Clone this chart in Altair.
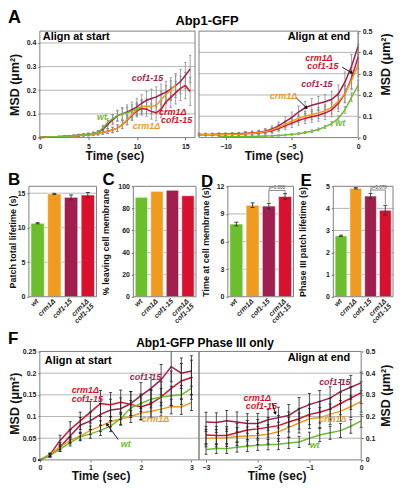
import altair as alt
import pandas as pd

FONT = "Liberation Sans"
SERIES = ["wt", "crm1Δ", "cof1-15", "crm1Δ cof1-15"]
COLOR = {"wt": "#6CBF2C", "crm1Δ": "#EE9B1F", "cof1-15": "#A11F4F", "crm1Δ cof1-15": "#D7112E"}
DRAW_ORDER = ["cof1-15", "crm1Δ cof1-15", "crm1Δ", "wt"]

# ---------------- Panel A: align at start (time, sec) ----------------
AS_T = [0, 0.5, 1, 1.5, 2, 2.5, 3, 3.5, 4, 4.5, 5, 5.5, 6, 6.5, 7, 7.5, 8, 8.5, 9, 9.5,
        10, 10.5, 11, 11.5, 12, 12.5, 13, 13.5, 14, 14.5, 15, 15.5]
AS_WT = [0, .001, .002, .003, .004, .005, .006, .008, .010, .012, .014, .017, .022, .040,
         .065, .080, .093, .100, .105, .112, .122, .130]
AS_WT_E = [0, .001, .001, .002, .002, .002, .003, .003, .004, .004, .005, .006, .008, .012,
           .016, .018, .020, .022, .024, .026, .028, .030]
AS_CRM = [0, .001, .002, .003, .004, .005, .006, .007, .009, .010, .012, .014, .018, .022,
          .027, .032, .040, .055, .075, .098, .118, .130, .133, .132, .136, .160, .182, .200, .222]
AS_CRM_E = [0, .001, .001, .002, .002, .002, .003, .003, .004, .004, .005, .006, .007, .008,
            .010, .012, .014, .017, .020, .023, .026, .028, .030, .032, .034, .036, .038, .040, .042]
AS_COF = [0, .001, .002, .003, .004, .005, .006, .008, .010, .012, .014, .017, .022, .035,
          .055, .075, .092, .100, .108, .118, .130, .145, .158, .165, .172, .182, .192, .205,
          .220, .237, .262, .290]
AS_COF_E = [0, .001, .001, .002, .002, .002, .003, .003, .004, .004, .005, .006, .008, .012,
            .016, .020, .024, .027, .030, .032, .034, .036, .038, .040, .042, .044, .046, .048,
            .050, .052, .055, .058]
AS_DBL = [0, .001, .002, .003, .004, .005, .006, .007, .009, .010, .012, .014, .018, .022,
          .027, .032, .040, .055, .073, .095, .113, .123, .120, .110, .105, .120, .150, .170,
          .190, .208, .220, .195]
AS_DBL_E = [0, .001, .001, .002, .002, .002, .003, .003, .004, .004, .005, .006, .007, .008,
            .010, .012, .014, .017, .020, .023, .026, .028, .030, .032, .034, .036, .040, .044,
            .048, .052, .056, .060]

# ---------------- Panel A: align at end ----------------
AE_T = [-12, -11.5, -11, -10.5, -10, -9.5, -9, -8.5, -8, -7.5, -7, -6.5, -6, -5.5, -5, -4.5,
        -4, -3.5, -3, -2.5, -2, -1.5, -1, -0.5, 0]
AE_WT = [.004, .004, .004, .004, .005, .005, .006, .007, .008, .010, .012, .015, .018, .024,
         .030, .038, .050, .065, .090, .130, .190, .245]
AE_WT_E = [.002, .002, .002, .002, .002, .002, .002, .003, .003, .003, .004, .004, .005, .005,
           .006, .007, .008, .010, .012, .016, .020, .025]
AE_COF = [.015, .015, .015, .016, .016, .017, .018, .020, .022, .025, .030, .040, .055, .075,
          .095, .120, .140, .152, .160, .168, .180, .205, .260, .335, .430]
AE_COF_E = [.006, .006, .006, .006, .006, .007, .007, .008, .009, .010, .012, .015, .018, .022,
            .025, .028, .030, .032, .033, .035, .038, .042, .048, .055, .060]
AE_DBL = [.013, .013, .013, .014, .014, .015, .016, .018, .020, .022, .026, .032, .042, .055,
          .068, .080, .090, .098, .105, .115, .130, .160, .205, .280, .380]
AE_DBL_E = [.005, .005, .005, .005, .005, .006, .006, .007, .008, .009, .010, .012, .015, .018,
            .020, .022, .024, .026, .028, .030, .033, .037, .042, .050, .058]
AE_CRM = [.013, .013, .013, .014, .014, .015, .016, .018, .020, .023, .028, .036, .048, .062,
          .078, .090, .100, .108, .116, .126, .142, .170, .205, .270, .340]
AE_CRM_E = [.005, .005, .005, .005, .005, .006, .006, .007, .008, .009, .010, .012, .014, .016,
            .018, .020, .022, .024, .026, .028, .031, .035, .040, .046, .052]

# ---------------- Panel F: phase III only, align at start ----------------
FS_T = [0, 0.2, 0.4, 0.6, 0.8, 1.0, 1.2, 1.4, 1.6, 1.8, 2.0, 2.2, 2.4, 2.6, 2.8, 3.0]
FS_DBL = [0, .012, .045, .070, .090, .110, .130, .127, .133, .128, .122, .130, .145, .165, .182, .190]
FS_DBL_E = [0, .004, .012, .018, .020, .025, .030, .028, .028, .030, .030, .032, .035, .040, .040, .040]
FS_COF = [0, .010, .030, .055, .080, .090, .105, .115, .118, .130, .148, .165, .185, .215, .200, .205]
FS_COF_E = [0, .004, .010, .015, .018, .020, .025, .025, .025, .028, .030, .032, .035, .035, .035, .035]
FS_CRM = [0, .012, .030, .045, .055, .068, .078, .088, .095, .100, .108, .112, .117, .123, .122, .132]
FS_CRM_E = [0, .003, .006, .008, .009, .010, .012, .012, .013, .014, .015, .015, .016, .017, .017, .018]
FS_WT = [0, .010, .025, .040, .053, .060, .068, .078, .095, .120, .130, .140, .145, .148, .150, .165]
FS_WT_E = [0, .003, .006, .008, .009, .010, .012, .013, .015, .017, .018, .020, .020, .022, .022, .025]

# ---------------- Panel F: phase III only, align at end ----------------
FE_T = [-3, -2.8, -2.6, -2.4, -2.2, -2.0, -1.8, -1.6, -1.4, -1.2, -1.0, -0.8, -0.6, -0.4, -0.2, 0]
FE_COF = [.175, .172, .180, .175, .168, .168, .185, .195, .205, .235, .255, .270, .285, .315, .335, .355]
FE_COF_E = [.045, .045, .048, .046, .045, .046, .048, .048, .050, .052, .052, .050, .052, .055, .055, .050]
FE_DBL = [.115, .113, .113, .125, .138, .143, .150, .158, .175, .190, .210, .220, .235, .260, .285, .310]
FE_DBL_E = [.040, .042, .040, .042, .044, .044, .045, .046, .046, .048, .048, .050, .050, .052, .052, .050]
FE_CRM = [.100, .100, .102, .108, .110, .113, .118, .130, .150, .170, .190, .195, .210, .225, .245, .270]
FE_CRM_E = [.040, .040, .040, .042, .042, .042, .044, .044, .045, .046, .046, .046, .048, .048, .050, .050]
FE_WT = [.048, .052, .052, .058, .063, .068, .070, .072, .078, .083, .100, .115, .125, .135, .155, .180]
FE_WT_E = [.022, .022, .022, .022, .024, .024, .024, .025, .025, .026, .028, .030, .030, .032, .032, .030]

# ---------------- Bar panels B-E ----------------
B_VALS = [10.65, 14.9, 14.4, 14.75]
B_ERR = [0.08, 0.08, 0.35, 0.35]
C_VALS = [90.0, 95.5, 96.5, 91.5]
D_VALS = [7.9, 9.95, 9.85, 10.9]
D_ERR = [0.2, 0.25, 0.3, 0.3]
E_VALS = [2.76, 4.91, 4.56, 3.92]
E_ERR = [0.03, 0.03, 0.12, 0.22]

# ---------------- layout (pixels inside the whole figure) ----------------
W, H = 388, 478
FRAME = "#808080"
GRID = "#b4b4b4"


def series_df(times, vals, errs, at_end):
    tt = times[len(times) - len(vals):] if at_end else times[:len(vals)]
    return pd.DataFrame({
        "t": tt, "v": vals,
        "lo": [v - e for v, e in zip(vals, errs)],
        "hi": [v + e for v, e in zip(vals, errs)],
    })


ONE = pd.DataFrame({"z": [0]})


def static_text(text, px, py, size, align="left", baseline="top"):
    return alt.Chart(ONE).mark_text(
        text=text, font=FONT, fontSize=size, fontWeight="bold",
        align=align, baseline=baseline, color="black",
    ).encode(x=alt.value(px), y=alt.value(py))


def frame(x0, x1, y0, y1):
    return alt.Chart(ONE).mark_rect(fill="transparent", stroke=FRAME, strokeWidth=1).encode(
        x=alt.value(x0), x2=alt.value(x1), y=alt.value(y0), y2=alt.value(y1))


def grid_layer(vals, Y, x0, x1):
    return alt.Chart(pd.DataFrame({"g": vals})).mark_rule(color=GRID, strokeWidth=1).encode(
        y=Y("g"), x=alt.value(x0), x2=alt.value(x1))


def curve_panel(times, data, at_end, xdom, xr, ydom, yr, xaxis, yaxis, grid_vals,
                err_color, cap, err_on_top, labels, arrows):
    def X(f):
        return alt.X(f + ":Q", scale=alt.Scale(domain=xdom, range=xr, nice=False, zero=False),
                     axis=xaxis)

    def Y(f):
        return alt.Y(f + ":Q", scale=alt.Scale(domain=ydom, range=yr, nice=False, zero=False),
                     axis=yaxis)

    layers = [grid_layer(grid_vals, Y, xr[0], xr[1]).encode(x=X("gx"), x2=alt.X2("gx2"))
              .transform_calculate(gx=str(xdom[0]), gx2=str(xdom[1]))]
    err_layers, line_layers = [], []
    for name in DRAW_ORDER:
        vals, errs = data[name]
        base = alt.Chart(series_df(times, vals, errs, at_end))
        err_layers.append(base.mark_rule(color=err_color, strokeWidth=0.8)
                          .encode(x=X("t"), y=Y("lo"), y2="hi:Q"))
        for f in ("lo", "hi"):
            err_layers.append(base.mark_tick(orient="horizontal", size=cap, thickness=0.8,
                                             color=err_color, opacity=1)
                              .encode(x=X("t"), y=Y(f)))
        line_layers.append(base.mark_line(color=COLOR[name], strokeWidth=1.5)
                           .encode(x=X("t"), y=Y("v")))
    layers += (line_layers + err_layers) if err_on_top else (err_layers + line_layers)

    lab = pd.DataFrame({"text": labels[0], "t": labels[1], "v": labels[2],
                        "c": [COLOR[s] for s in labels[3]]})
    layers.append(alt.Chart(lab).mark_text(font=FONT, fontSize=9, fontWeight="bold",
                                           fontStyle="italic", baseline="middle")
                  .encode(x=X("t"), y=Y("v"), text="text:N",
                          color=alt.Color("c:N", scale=None)))
    if arrows is not None:
        arr = pd.DataFrame({"t": arrows[0], "v": arrows[1], "t2": arrows[2], "v2": arrows[3],
                            "ang": arrows[4]})
        layers.append(alt.Chart(arr).mark_rule(color="black", strokeWidth=0.9)
                      .encode(x=X("t"), y=Y("v"), x2="t2:Q", y2="v2:Q"))
        layers.append(alt.Chart(arr).mark_point(shape="triangle-up", filled=True, size=14,
                                                color="black", opacity=1)
                      .encode(x=X("t2"), y=Y("v2"), angle=alt.Angle("ang:Q", scale=None)))
    return alt.layer(*layers)


def xaxis_curve(values, bottom, tx, ty, pad):
    return alt.Axis(values=values, title="Time (sec)", orient="bottom", offset=bottom - H,
                    grid=False, titleX=tx, titleY=ty, titleBaseline="top", titleAlign="center",
                    titleFontSize=12, labelPadding=pad, format="d")


def yaxis_curve(values, orient, edge, tx, ty, fmt):
    off = -edge if orient == "left" else edge - W
    return alt.Axis(values=values, title="MSD (μm²)", orient=orient, offset=off, grid=False,
                    titleX=tx, titleY=ty, titleAngle=270, titleBaseline="middle",
                    titleAlign="center", titleFontSize=12.5, format=fmt)


# ---- A left ---- (plot box x 32..188, y 22..129)
A_left = curve_panel(
    AS_T,
    {"wt": (AS_WT, AS_WT_E), "crm1Δ": (AS_CRM, AS_CRM_E), "cof1-15": (AS_COF, AS_COF_E),
     "crm1Δ cof1-15": (AS_DBL, AS_DBL_E)},
    False, [0, 16], [32, 188], [0, 0.45], [129, 22],
    xaxis_curve([0, 5, 10, 15], 129, 107, 13.5, 3),
    yaxis_curve([0, 0.1, 0.2, 0.3, 0.4], "left", 32, -25.5, 75.5, ".1~f"),
    [0.1, 0.2, 0.3, 0.4],
    "#8c8c8c", 2.5, False,
    (["cof1-15", "wt", "crm1Δ", "crm1Δ", "cof1-15"],
     [11.1, 6.4, 11.0, 13.7, 14.1],
     [0.253, 0.086, 0.05, 0.109, 0.073],
     ["cof1-15", "wt", "crm1Δ", "crm1Δ cof1-15", "crm1Δ cof1-15"]),
    None,
)

# ---- A right ---- (plot box x 192..352, y 22..129)
A_right = curve_panel(
    AE_T,
    {"wt": (AE_WT, AE_WT_E), "crm1Δ": (AE_CRM, AE_CRM_E), "cof1-15": (AE_COF, AE_COF_E),
     "crm1Δ cof1-15": (AE_DBL, AE_DBL_E)},
    True, [-12, 0], [192, 352], [0, 0.5], [129, 22],
    xaxis_curve([-10, -5, 0], 129, 267, 13.5, 3),
    yaxis_curve([0, 0.1, 0.2, 0.3, 0.4, 0.5], "right", 352, 27, 55, ".1~f"),
    [0.1, 0.2, 0.3, 0.4],
    "#8c8c8c", 2.5, False,
    (["crm1Δ", "cof1-15", "cof1-15", "crm1Δ", "wt"],
     [-2.96, -2.66, -3.11, -5.63, -1.35],
     [0.375, 0.334, 0.25, 0.196, 0.068],
     ["crm1Δ cof1-15", "crm1Δ cof1-15", "cof1-15", "crm1Δ", "wt"]),
    ([-1.2, -4.65], [0.33, 0.185], [-0.5, -3.9], [0.305, 0.14], [120, 135]),
)

# ---- F left ---- (plot box x 32..192, y 344..453)
F_left = curve_panel(
    FS_T,
    {"wt": (FS_WT, FS_WT_E), "crm1Δ": (FS_CRM, FS_CRM_E), "cof1-15": (FS_COF, FS_COF_E),
     "crm1Δ cof1-15": (FS_DBL, FS_DBL_E)},
    False, [0, 3.15], [32, 192], [0, 0.25], [453, 344],
    xaxis_curve([0, 1, 2, 3], 453, 93, 11, 1.5),
    yaxis_curve([0, 0.05, 0.1, 0.15, 0.2, 0.25], "left", 32, -25, 396, ".2~f"),
    [0.05, 0.1, 0.15, 0.2],
    "#222222", 3, True,
    (["cof1-15", "crm1Δ", "cof1-15", "crm1Δ", "wt"],
     [2.09, 0.9, 0.94, 2.29, 1.7],
     [0.19, 0.160, 0.140, 0.095, 0.036],
     ["cof1-15", "crm1Δ cof1-15", "crm1Δ cof1-15", "crm1Δ", "wt"]),
    ([1.55], [0.047], [1.33], [0.082], [-35]),
)

# ---- F right ---- (plot box x 192..355, y 344..453)
F_right = curve_panel(
    FE_T,
    {"wt": (FE_WT, FE_WT_E), "crm1Δ": (FE_CRM, FE_CRM_E), "cof1-15": (FE_COF, FE_COF_E),
     "crm1Δ cof1-15": (FE_DBL, FE_DBL_E)},
    True, [-3.135, 0], [192, 355], [0, 0.5], [453, 344],
    xaxis_curve([-3, -2, -1, 0], 453, 270, 11, 1.5),
    yaxis_curve([0, 0.1, 0.2, 0.3, 0.4, 0.5], "right", 355, 24, 388, ".1~f"),
    [0.1, 0.2, 0.3, 0.4],
    "#222222", 3, True,
    (["cof1-15", "crm1Δ", "cof1-15", "crm1Δ", "wt"],
     [-0.51, -2.01, -1.93, -0.55, -0.9],
     [0.358, 0.287, 0.247, 0.19, 0.069],
     ["cof1-15", "crm1Δ cof1-15", "crm1Δ cof1-15", "crm1Δ", "wt"]),
    ([-1.72], [0.262], [-1.66], [0.215], [165]),
)

BAR_TOP, BAR_BOTTOM = 178, 289


def bar_panel(vals, errs, ymax, ticks, title, title_x, x0, x1, bracket=None):
    xaxis = alt.Axis(title=None, orient="bottom", offset=BAR_BOTTOM - H, labelAngle=-45,
                     labelAlign="right", labelBaseline="middle", labelFontStyle="italic",
                     labelFontSize=7, ticks=False, labelPadding=3, labelLineHeight=7, grid=False,
                     labelExpr="datum.value == 'crm1Δ cof1-15' ? ['crm1Δ', 'cof1-15'] : datum.label")
    yaxis = alt.Axis(values=ticks, title=title, orient="left", offset=-x0, grid=False, format="d",
                     titleX=title_x, titleY=(BAR_TOP + BAR_BOTTOM) / 2, titleAngle=270,
                     titleBaseline="middle", titleAlign="center", titleFontSize=9)
    X = alt.X("s:N", scale=alt.Scale(domain=SERIES, range=[x0, x1], paddingInner=0.2,
                                     paddingOuter=0.12), axis=xaxis)

    def Y(f):
        return alt.Y(f + ":Q", scale=alt.Scale(domain=[0, ymax], range=[BAR_BOTTOM, BAR_TOP],
                                               nice=False), axis=yaxis)

    df = pd.DataFrame({"s": SERIES, "v": vals, "c": [COLOR[s] for s in SERIES]})
    layers = [grid_layer([t for t in ticks if 0 < t < ymax], Y, x0, x1),
              alt.Chart(df).mark_bar(stroke="white", strokeWidth=0.6)
              .encode(x=X, y=Y("v"), color=alt.Color("c:N", scale=None))]
    if errs is not None:
        edf = pd.DataFrame({"s": SERIES, "lo": [v - e for v, e in zip(vals, errs)],
                            "hi": [v + e for v, e in zip(vals, errs)]})
        layers.append(alt.Chart(edf).mark_rule(color="#333333", strokeWidth=0.9)
                      .encode(x=X, y=Y("lo"), y2="hi:Q"))
        for f in ("lo", "hi"):
            layers.append(alt.Chart(edf).mark_tick(orient="horizontal", size=4, thickness=0.9,
                                                   color="#333333", opacity=1)
                          .encode(x=X, y=Y(f)))
    if bracket is not None:
        bdf = pd.DataFrame({"s": ["cof1-15", "cof1-15", "crm1Δ cof1-15", "crm1Δ cof1-15"],
                            "b": bracket[0], "i": [0, 1, 2, 3]})
        layers.append(alt.Chart(bdf).mark_line(color="#555555", strokeWidth=0.7)
                      .encode(x=X, y=Y("b"), order="i:Q"))
        tdf = pd.DataFrame({"s": ["cof1-15"], "b": [bracket[1]], "text": [bracket[2]]})
        layers.append(alt.Chart(tdf).mark_text(font=FONT, fontSize=4.5, dx=8, baseline="bottom",
                                               color="#333333")
                      .encode(x=X, y=Y("b"), text="text:N"))
    return alt.layer(*layers)


B = bar_panel(B_VALS, B_ERR, 16, [0, 5, 10, 15], "Patch total lifetime (s)", -16, 21, 89)
C = bar_panel(C_VALS, None, 100, [0, 20, 40, 60, 80, 100], "% leaving cell membrane", -27.5, 126, 189)
D = bar_panel(D_VALS, D_ERR, 12, [0, 3, 6, 9, 12], "Time at cell membrane (s)", -22.5, 221, 287,
              bracket=([10.25, 11.55, 11.55, 11.25], 11.6, "p=0.008"))
E = bar_panel(E_VALS, E_ERR, 5, [0, 1, 2, 3, 4, 5], "Phase III patch lifetime (s)", -31, 327, 387,
              bracket=([4.7, 4.83, 4.83, 4.2], 4.85, "p=0.078"))

decor = [
    frame(32, 188, 22, 129), frame(192, 352, 22, 129),
    frame(21, 89, BAR_TOP, BAR_BOTTOM), frame(126, 189, BAR_TOP, BAR_BOTTOM),
    frame(221, 287, BAR_TOP, BAR_BOTTOM), frame(327, 387, BAR_TOP, BAR_BOTTOM),
    frame(32, 192, 344, 453), frame(192, 355, 344, 453),
    static_text("A", 0, 0, 18),
    static_text("Abp1-GFP", 200, 12, 13, align="center", baseline="middle"),
    static_text("Align at start", 35, 27.5, 11, baseline="middle"),
    static_text("Align at end", 344, 27.5, 11, align="right", baseline="middle"),
    static_text("B", 0, 164, 17), static_text("C", 95, 164, 17),
    static_text("D", 194, 166, 17), static_text("E", 294, 165, 17),
    static_text("F", 0, 323, 17),
    static_text("Abp1-GFP Phase III only", 198, 336, 12, align="center", baseline="middle"),
    static_text("Align at start", 37, 353.5, 11, baseline="middle"),
    static_text("Align at end", 344, 351, 11, align="right", baseline="middle"),
]

chart = alt.layer(
    A_left, A_right, B, C, D, E, F_left, F_right, *decor
).resolve_scale(x="independent", y="independent").resolve_axis(
    x="independent", y="independent"
).properties(width=W, height=H, padding=0).configure_view(
    stroke="transparent"
).configure_axis(
    labelFont=FONT, labelFontSize=7, labelFontWeight="bold", labelColor="#222222",
    titleFont=FONT, titleFontWeight="bold", titleColor="#111111", domain=False,
    tickColor="#666666", tickSize=2, labelFlush=False, labelOverlap=False,
)

chart.save("out.html", embed_options={"renderer": "svg", "actions": False})
